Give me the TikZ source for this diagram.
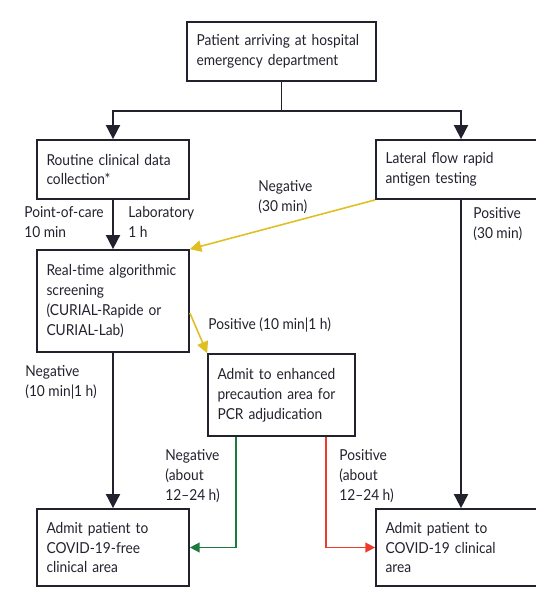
\documentclass[tikz,border=0pt]{standalone}
\usepackage{fontspec}
\setmainfont{Lato}[FakeStretch=0.91]
\usepackage{xcolor}
\usetikzlibrary{arrows.meta}
\hyphenpenalty=10000

\definecolor{ink}{HTML}{22222E}
\definecolor{negyellow}{HTML}{E0BF22}
\definecolor{neggreen}{HTML}{1E7A3C}
\definecolor{posred}{HTML}{EC3B2C}

\begin{document}
\begin{tikzpicture}[x=0.02cm,y=-0.02cm,
  box/.style={draw=ink, line width=1pt, rectangle, align=left, inner xsep=0.19cm,
    text=ink, font=\fontsize{8.6}{11.3}\selectfont},
  lbl/.style={anchor=north west, align=left, inner sep=0pt, text=ink,
    font=\fontsize{8.6}{11.3}\selectfont},
  link/.style={draw=ink, line width=1pt},
  flow/.style={link, -{Triangle[width=8pt,length=8pt]}},
  yflow/.style={draw=negyellow, line width=0.9pt, -{Triangle[width=6.5pt,length=6.5pt]}},
  gflow/.style={draw=neggreen, line width=0.9pt, -{Triangle[width=5.5pt,length=5.5pt]}},
  rflow/.style={draw=posred, line width=0.9pt, -{Triangle[width=5.5pt,length=5.5pt]}}]
\useasboundingbox (0,0) rectangle (536,597);

\node[box, text width=3.40cm, minimum height=1.18cm] (arrive) at (281.5,51.5) {Patient arriving at hospital\\emergency department};

\node[box, text width=2.66cm, minimum height=1.18cm] (routine) at (113,169.5) {Routine clinical data\\collection*};
\node[box, text width=3.02cm, minimum height=1.18cm] (lateral) at (461,169.5) {Lateral flow rapid\\antigen testing};

\node[box, text width=2.66cm, minimum height=2.04cm] (screen) at (113,301) {Real-time algorithmic\\screening\\(CURIAL-Rapide or\\CURIAL-Lab)};
\node[box, text width=2.56cm, minimum height=1.64cm] (enhanced) at (281.5,395) {Admit to enhanced\\precaution area for\\PCR adjudication};

\node[box, text width=2.66cm, minimum height=1.54cm] (covidfree) at (113,547.5) {Admit patient to\\COVID-19-free\\clinical area};
\node[box, text width=3.02cm, minimum height=1.54cm] (covidarea) at (461,547.5) {Admit patient to\\COVID-19 clinical\\area};

\node[lbl] (poc) at (24,206) {Point-of-care\\10 min};
\node[lbl] (lab) at (128,206) {Laboratory\\1 h};
\node[lbl] (lfneg) at (258,180) {Negative\\(30 min)};
\node[lbl] (lfpos) at (473,207) {Positive\\(30 min)};
\node[lbl] (scpos) at (208,317) {Positive (10 min|1 h)};
\node[lbl] (scneg) at (25,365) {Negative\\(10 min|1 h)};
\node[lbl] (pcrneg) at (165,449) {Negative\\(about\\12--24 h)};
\node[lbl] (pcrpos) at (339,449) {Positive\\(about\\12--24 h)};

\draw[link] (arrive.south) -- ++(0,29) coordinate (split);
\draw[flow] (split) -| (routine.north);
\draw[flow] (split) -| (lateral.north);

\draw[flow] (routine) -- (screen);
\draw[yflow] (lateral.south west) -- (screen.north east);
\draw[flow] (lateral) -- (covidarea);

\draw[yflow] (screen.east) ++(0,12) -- (enhanced.north west);
\draw[flow] (screen) -- (covidfree);

\draw[gflow] (enhanced.south west) ++(29,0) |- (covidfree.east);
\draw[rflow] (enhanced.south east) ++(-30,0) |- (covidarea.west);
\end{tikzpicture}
\end{document}
